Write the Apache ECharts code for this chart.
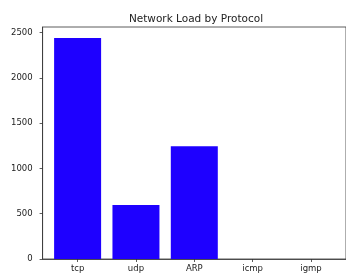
<!DOCTYPE html>
<html>
<head>
<meta charset="utf-8">
<script src="https://cdn.jsdelivr.net/npm/echarts@6/dist/echarts.min.js"></script>
<style>
  html, body { margin: 0; padding: 0; background: #fff; }
  #chart { width: 346px; height: 273px; }
</style>
</head>
<body>
<div id="chart"></div>
<script>
// data
const protocols = ['tcp', 'udp', 'ARP', 'icmp', 'igmp'];
const loads = [2440, 595, 1245, 0, 0];
const yTicks = [0, 500, 1000, 1500, 2000, 2500];

const positions = protocols.map((p, i) => i);

const chart = echarts.init(document.getElementById('chart'));

chart.setOption({
  animation: false,
  title: {
    text: 'Network Load by Protocol',
    left: 191,
    textAlign: 'center',
    top: 9,
    textStyle: { fontFamily: 'DejaVu Sans', fontSize: 10.5, fontWeight: 'normal', color: '#222' }
  },
  grid: {
    left: 42.6,
    right: -3.6,
    top: 27,
    bottom: 14,
    show: true,
    borderColor: '#333',
    borderWidth: 0.8,
    backgroundColor: 'transparent'
  },
  xAxis: {
    type: 'value',
    min: -0.6,
    max: 4.6,
    splitLine: { show: false },
    axisLine: { show: true, onZero: false, lineStyle: { color: '#333', width: 0.8 } },
    axisTick: { show: true, length: 3, customValues: positions, lineStyle: { color: '#333', width: 0.8 } },
    axisLabel: {
      customValues: positions,
      formatter: v => protocols[Math.round(v)],
      margin: 5,
      fontFamily: 'DejaVu Sans',
      fontSize: 8.5,
      color: '#222'
    }
  },
  yAxis: {
    type: 'value',
    min: 0,
    max: 2562,
    splitLine: { show: false },
    axisLine: { show: true, onZero: false, lineStyle: { color: '#333', width: 0.8 } },
    axisTick: { show: true, length: 3, customValues: yTicks, lineStyle: { color: '#333', width: 0.8 } },
    axisLabel: {
      customValues: yTicks,
      formatter: v => String(v),
      margin: 10,
      fontFamily: 'DejaVu Sans',
      fontSize: 8.5,
      color: '#222'
    }
  },
  series: [{
    type: 'bar',
    data: positions.map(i => [i, loads[i]]),
    barWidth: 47,
    itemStyle: { color: '#1e00ff' }
  }]
});
</script>
</body>
</html>
